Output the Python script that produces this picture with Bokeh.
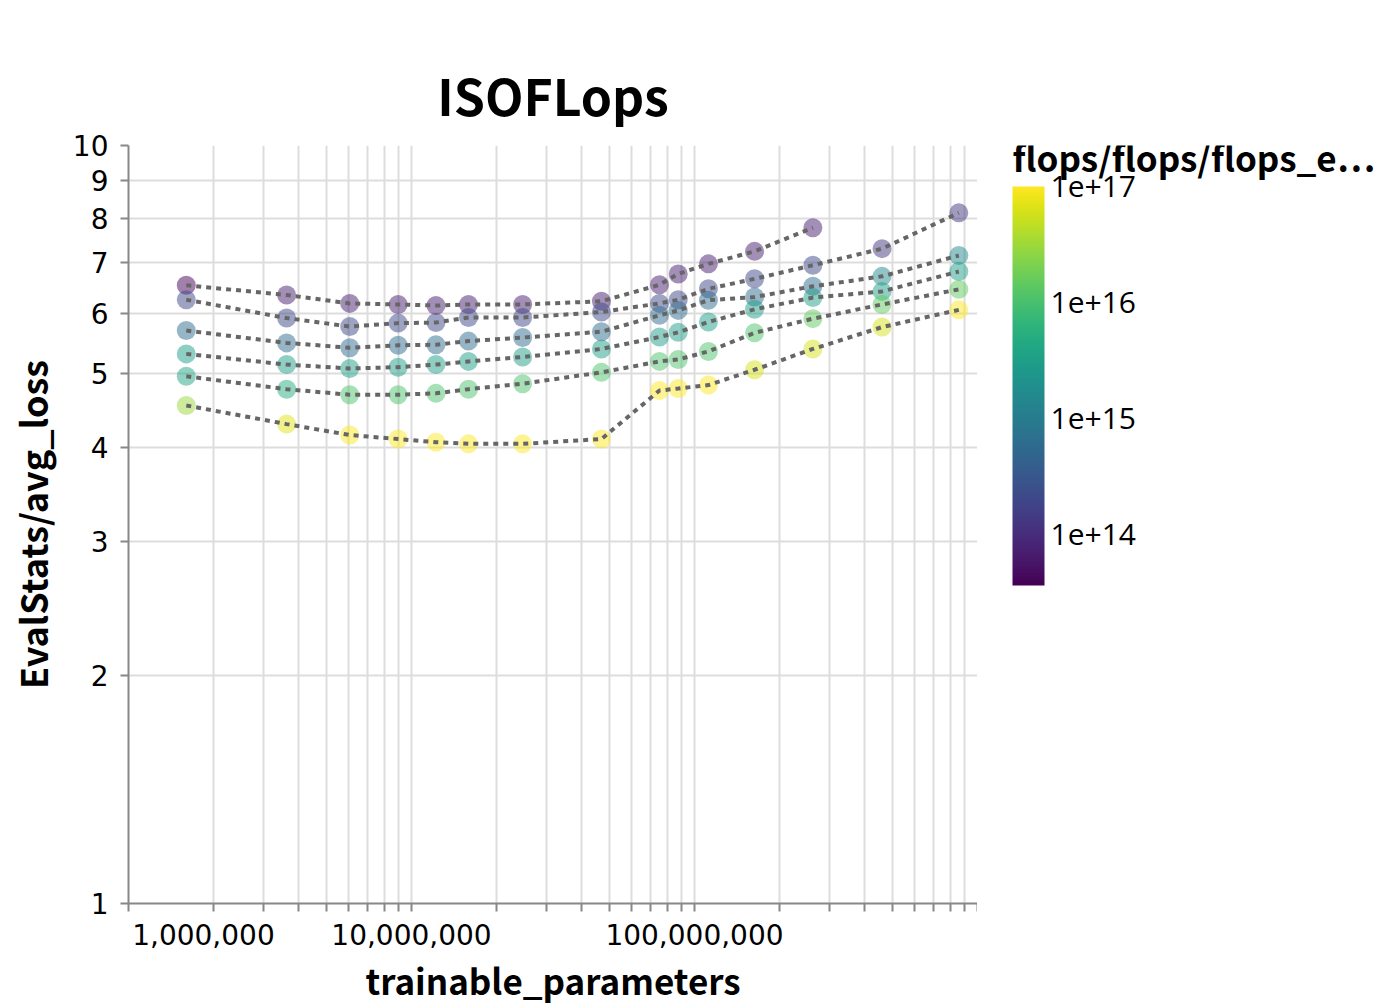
from bokeh.plotting import figure
from bokeh.layouts import row
from bokeh.models import (ColumnDataSource, LogColorMapper, ColorBar, FixedTicker,
                          CustomJSTickFormatter, PrintfTickFormatter, Range1d,
                          Label, LogAxis)
from bokeh.palettes import Viridis256
from bokeh.transform import transform
from bokeh.embed import file_html
from bokeh.resources import INLINE

# trainable parameters of each model size
params = [1.60e6, 3.62e6, 6.05e6, 8.97e6, 1.22e7, 1.59e7, 2.47e7, 4.69e7,
          7.52e7, 8.76e7, 1.12e8, 1.63e8, 2.62e8, 4.60e8, 8.59e8]

# eval loss along each curve (curve "a" stops at the 13th model size)
loss_a = [6.54, 6.35, 6.19, 6.17, 6.15, 6.17, 6.17, 6.23, 6.55, 6.77, 6.98, 7.25, 7.79]
loss_b = [6.26, 5.92, 5.77, 5.83, 5.84, 5.93, 5.93, 6.03, 6.19, 6.26, 6.47, 6.67, 6.95, 7.31, 8.15]
loss_c = [5.70, 5.49, 5.41, 5.45, 5.46, 5.52, 5.58, 5.68, 5.97, 6.06, 6.25, 6.31, 6.52, 6.72, 7.16]
loss_d = [5.31, 5.14, 5.08, 5.10, 5.14, 5.19, 5.26, 5.39, 5.59, 5.67, 5.85, 6.08, 6.30, 6.42, 6.82]
loss_e = [4.96, 4.77, 4.69, 4.69, 4.71, 4.77, 4.85, 5.02, 5.19, 5.22, 5.35, 5.66, 5.91, 6.17, 6.46]
loss_f = [4.54, 4.29, 4.15, 4.10, 4.06, 4.04, 4.04, 4.10, 4.75, 4.78, 4.83, 5.06, 5.39, 5.76, 6.07]

# estimated flops of every run
flops_a = [4e13, 7e13, 7e13, 7e13, 7e13, 7e13, 7e13, 7e13, 7e13, 7e13, 7e13, 7e13, 7e13]
flops_b = [2e14, 2e14, 2e14, 2e14, 2e14, 2e14, 2e14, 2e14, 2e14, 2e14, 2e14, 2e14, 2e14, 1.3e14, 1.3e14]
flops_c = [6e14, 6e14, 6e14, 6e14, 6e14, 6e14, 6e14, 6e14, 6e14, 6e14, 6e14, 6e14, 6e14, 1.5e15, 1.5e15]
flops_d = [3e15, 3e15, 3e15, 3e15, 3e15, 3e15, 3e15, 3e15, 3e15, 3e15, 3e15, 3e15, 3e15, 3e15, 3e15]
flops_e = [4e15, 5e15, 1.1e16, 1.1e16, 1.1e16, 1.1e16, 1.1e16, 1.1e16, 1.1e16, 1.1e16, 1.1e16, 1.1e16, 1.5e16, 1.5e16, 1.5e16]
flops_f = [3e16, 7e16, 1e17, 1e17, 1e17, 1e17, 1e17, 1e17, 1e17, 1e17, 1e17, 6e16, 6e16, 6e16, 1e17]

flops_min, flops_max = 3.65e13, 1e17

# tick marks / grid lines of the x axis
x_ticks = [1e6, 2e6, 3e6, 4e6, 5e6, 6e6, 7e6, 8e6, 9e6,
           1e7, 2e7, 3e7, 4e7, 5e7, 6e7, 7e7, 8e7, 9e7,
           1e8, 2e8, 3e8, 4e8, 5e8, 6e8, 7e8, 8e8, 9e8, 1e9]
# labelled x values; the first label is flushed right of the axis start
x_labels = [1e6, 1e7, 1e8]
x_first_anchor = 1.84e6
y_ticks = [1, 2, 3, 4, 5, 6, 7, 8, 9, 10]
cbar_ticks = [1e14, 1e15, 1e16, 1e17]
cbar_title = "flops/flops/flops_e\u2026"

TITLE_FONT = "Noto Sans CJK JP"
TICK_FONT = "DejaVu Sans"
CBAR_FONT = "Open Sans"
GRID = "#dddddd"
AXIS = "#888888"

FRAME_W, FRAME_H = 849, 758
TOP, BOTTOM, LEFT, SIDE_W = 145, 105, 128, 407

series = [
    (loss_a, flops_a), (loss_b, flops_b), (loss_c, flops_c),
    (loss_d, flops_d), (loss_e, flops_e), (loss_f, flops_f),
]

mapper = LogColorMapper(palette=Viridis256, low=flops_min, high=flops_max)

p = figure(
    frame_width=FRAME_W, frame_height=FRAME_H,
    min_border_left=LEFT, min_border_right=0,
    min_border_top=TOP, min_border_bottom=BOTTOM,
    x_axis_type="log", y_axis_type="log",
    x_range=Range1d(1e6, 1e9), y_range=Range1d(1, 10),
    output_backend="svg", toolbar_location=None,
    title="ISOFLops",
)
p.outline_line_color = None
p.background_fill_color = "white"
p.border_fill_color = "white"

p.title.align = "center"
p.title.text_font = TITLE_FONT
p.title.text_font_size = "50px"
p.title.text_font_style = "bold"
p.title.text_color = "black"
p.title.standoff = 32

sources = []
for loss, flops in series:
    n = len(loss)
    sources.append(ColumnDataSource(dict(params=params[:n], loss=loss, flops=flops)))

for src in sources:
    p.scatter("params", "loss", source=src, size=19,
              fill_color=transform("flops", mapper), fill_alpha=0.5,
              line_color=None)

for src in sources:
    p.line("params", "loss", source=src, line_color="#666666",
           line_width=4, line_dash="5 5")

# x axis: tick marks and grid come from this one
xa = p.xaxis[0]
xa.ticker = FixedTicker(ticks=[], minor_ticks=x_ticks)
xa.axis_line_color = AXIS
xa.axis_line_width = 2
xa.minor_tick_line_color = AXIS
xa.minor_tick_line_width = 2
xa.minor_tick_in = 0
xa.minor_tick_out = 8
xa.major_label_standoff = 0

# x axis: labels and title
label_positions = [x_first_anchor] + x_labels[1:]
xl = LogAxis(
    ticker=FixedTicker(ticks=label_positions, minor_ticks=[]),
    formatter=CustomJSTickFormatter(
        args=dict(anchor=x_first_anchor, first=x_labels[0]),
        code="""
const v = Math.abs(tick - anchor) < 1 ? first : tick;
return Math.round(v).toString().replace(/\\B(?=(\\d{3})+(?!\\d))/g, ",");
"""),
    axis_line_color=None, major_tick_line_color=None, minor_tick_line_color=None,
    major_tick_in=0, major_tick_out=0, major_label_standoff=12,
    major_label_text_font=TICK_FONT, major_label_text_font_size="28px",
    major_label_text_color="black",
    axis_label="trainable_parameters", axis_label_standoff=6,
    axis_label_text_font=TITLE_FONT, axis_label_text_font_size="35px",
    axis_label_text_font_style="bold", axis_label_text_color="black",
)
p.add_layout(xl, "below")

ya = p.yaxis[0]
ya.ticker = FixedTicker(ticks=y_ticks, minor_ticks=[])
ya.axis_line_color = AXIS
ya.axis_line_width = 2
ya.major_tick_line_color = AXIS
ya.major_tick_line_width = 2
ya.major_tick_in = 0
ya.major_tick_out = 8
ya.major_label_text_font = TICK_FONT
ya.major_label_text_font_size = "28px"
ya.major_label_text_color = "black"
ya.major_label_standoff = 12
ya.axis_label = "EvalStats/avg_loss"
ya.axis_label_text_font = TITLE_FONT
ya.axis_label_text_font_size = "36px"
ya.axis_label_text_font_style = "bold"
ya.axis_label_text_color = "black"
ya.axis_label_standoff = 12

p.xgrid.grid_line_color = GRID
p.xgrid.grid_line_width = 2
p.xgrid.minor_grid_line_color = GRID
p.xgrid.minor_grid_line_width = 2
p.ygrid.grid_line_color = GRID
p.ygrid.grid_line_width = 2

# side panel holding the colour bar and its heading; its frame lines up
# with the main frame, one unit per pixel
side = figure(
    frame_width=SIDE_W, frame_height=FRAME_H,
    min_border_left=0, min_border_right=0,
    min_border_top=TOP, min_border_bottom=BOTTOM,
    x_range=Range1d(0, SIDE_W), y_range=Range1d(0, FRAME_H),
    x_axis_location=None, y_axis_location=None,
    output_backend="svg", toolbar_location=None,
)
side.outline_line_color = None
side.grid.visible = False
side.background_fill_color = "white"
side.border_fill_color = "white"

cbar = ColorBar(
    color_mapper=mapper,
    ticker=FixedTicker(ticks=cbar_ticks),
    formatter=PrintfTickFormatter(format="%.0e"),
    width=32, height=399,
    major_label_text_font=CBAR_FONT, major_label_text_font_size="30px",
    major_label_text_color="black",
    label_standoff=6,
    padding=0, margin=0,
    bar_line_color=None, major_tick_line_color=None,
    border_line_color=None, background_fill_color=None,
    location=(35, 318),
)
side.add_layout(cbar, "center")

side.add_layout(Label(x=35, y=747, text=cbar_title,
                      text_align="left", text_baseline="alphabetic",
                      text_font=TITLE_FONT, text_font_size="35px",
                      text_font_style="bold", text_color="black"))

layout = row(p, side, spacing=0)
open("out.html", "w").write(file_html(layout, INLINE))
